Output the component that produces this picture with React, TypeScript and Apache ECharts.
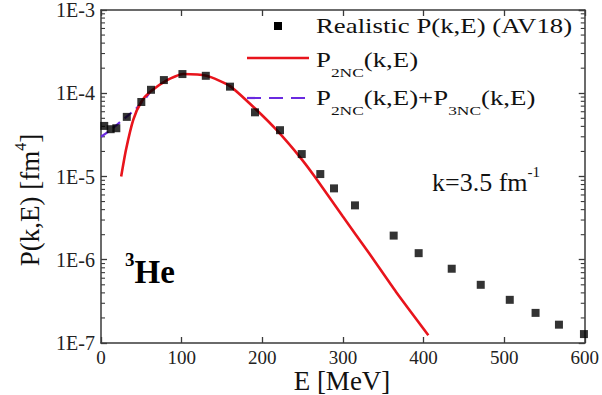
import React, { useEffect, useRef } from "react";
import * as echarts from "echarts";

// Realistic P(k,E) (AV18) squares
const realisticE = [4, 12, 19, 32, 50, 62, 78, 101, 130, 160, 191, 222, 249, 272, 289, 315, 363, 394, 435, 471, 507, 539, 568, 599];
const realisticP = [4.05e-5, 3.7e-5, 3.8e-5, 5.2e-5, 7.85e-5, 1.1e-4, 1.44e-4, 1.7e-4, 1.62e-4, 1.2e-4, 5.9e-5, 3.6e-5, 1.86e-5, 1.07e-5, 7.2e-6, 4.5e-6, 1.95e-6, 1.2e-6, 7.8e-7, 5.0e-7, 3.3e-7, 2.3e-7, 1.66e-7, 1.28e-7];

// P2NC(k,E) red curve
const p2ncE = [25, 31, 40, 50, 61, 82, 102, 131, 160, 193, 218, 247, 265, 300, 333, 366, 406];
const p2ncP = [1.0e-5, 2.1e-5, 4.8e-5, 7.9e-5, 1.04e-4, 1.44e-4, 1.7e-4, 1.62e-4, 1.22e-4, 6.3e-5, 3.6e-5, 1.7e-5, 1.0e-5, 3.3e-6, 1.18e-6, 4.1e-7, 1.24e-7];

// P2NC + P3NC dashed curve (visible part at low E)
const p23E = [0, 12, 27, 42, 55, 61];
const p23P = [3.0e-5, 3.6e-5, 4.8e-5, 6.3e-5, 8.6e-5, 1.04e-4];

const yTickLabels = ["1E-7", "1E-6", "1E-5", "1E-4", "1E-3"];
const minorMantissas = [2, 3, 4, 5, 6, 7, 8, 9];
const minorDecades = [-7, -6, -5, -4];

const SERIF = "serif";
const AXIS_COLOR = "#3a3a3a";
const RED = "#e8141c";
const BLUE = "#6a2ae0";

export default function App() {
  const ref = useRef<HTMLDivElement>(null);

  useEffect(() => {
    if (!ref.current) return;
    const chart = echarts.init(ref.current, undefined, { renderer: "svg" });

    const minorVals: number[] = [];
    minorDecades.forEach((d) => minorMantissas.forEach((m) => minorVals.push(m * Math.pow(10, d))));

    const axisLine = { show: true, onZero: false, lineStyle: { color: AXIS_COLOR, width: 1.5 } };
    const tickStyle = { show: true, inside: true, length: 6, lineStyle: { color: AXIS_COLOR, width: 1.3 } };

    const option: any = {
      animation: false,
      backgroundColor: "#ffffff",
      textStyle: { fontFamily: SERIF },
      grid: { left: 101, right: 17, top: 10, bottom: 52, containLabel: false },
      xAxis: [
        {
          type: "value",
          min: 0,
          max: 600,
          interval: 100,
          position: "bottom",
          axisLine,
          axisTick: tickStyle,
          splitLine: { show: false },
          axisLabel: { margin: 5, fontFamily: SERIF, fontSize: 19, color: "#222" },
        },
        {
          type: "value",
          min: 0,
          max: 600,
          interval: 100,
          position: "top",
          axisLine,
          axisTick: tickStyle,
          splitLine: { show: false },
          axisLabel: { show: false },
        },
      ],
      yAxis: [
        {
          type: "log",
          logBase: 10,
          min: 1e-7,
          max: 1e-3,
          position: "left",
          axisLine,
          axisTick: tickStyle,
          splitLine: { show: false },
          axisLabel: {
            margin: 6,
            fontFamily: SERIF,
            fontSize: 20,
            color: "#222",
            formatter: (v: number) => {
              const idx = Math.round(Math.log10(v)) + 7;
              return yTickLabels[idx] ?? "";
            },
          },
        },
        {
          type: "log",
          logBase: 10,
          min: 1e-7,
          max: 1e-3,
          position: "right",
          axisLine,
          axisTick: tickStyle,
          splitLine: { show: false },
          axisLabel: { show: false },
        },
      ],
      series: [
        {
          type: "custom",
          xAxisIndex: 0,
          yAxisIndex: 0,
          silent: true,
          clip: false,
          data: minorVals.map((v) => [0, v]),
          renderItem: (_p: any, api: any) => {
            const v = api.value(1);
            const l = api.coord([0, v]);
            const r = api.coord([600, v]);
            const st = { stroke: AXIS_COLOR, lineWidth: 1.1 };
            return {
              type: "group",
              children: [
                { type: "line", shape: { x1: l[0], y1: l[1], x2: l[0] + 4, y2: l[1] }, style: st },
                { type: "line", shape: { x1: r[0], y1: r[1], x2: r[0] - 4, y2: r[1] }, style: st },
              ],
            };
          },
        },
        {
          name: "P2NC+P3NC",
          type: "line",
          data: p23E.map((e, i) => [e, p23P[i]]),
          showSymbol: false,
          symbol: "none",
          lineStyle: { color: BLUE, width: 2.2, type: [9, 6] },
          z: 2,
        },
        {
          name: "P2NC",
          type: "line",
          data: p2ncE.map((e, i) => [e, p2ncP[i]]),
          showSymbol: false,
          symbol: "none",
          smooth: 0.2,
          lineStyle: { color: RED, width: 2.6 },
          z: 3,
        },
        {
          name: "Realistic",
          type: "scatter",
          data: realisticE.map((e, i) => [e, realisticP[i]]),
          symbol: "rect",
          symbolSize: 8,
          itemStyle: { color: "#000" },
          z: 4,
        },
      ],
      graphic: [
        // legend
        { type: "rect", shape: { x: 274, y: 22, width: 8, height: 8 }, style: { fill: "#000" }, z: 10 },
        { type: "line", shape: { x1: 247, y1: 58, x2: 309, y2: 58 }, style: { stroke: RED, lineWidth: 2.6 }, z: 10 },
        { type: "line", shape: { x1: 247, y1: 98, x2: 309, y2: 98 }, style: { stroke: BLUE, lineWidth: 2.2, lineDash: [14, 8] }, z: 10 },
        {
          type: "text",
          x: 316,
          y: 26,
          scaleX: 1.34,
          z: 10,
          style: { text: "Realistic P(k,E) (AV18)", fontFamily: SERIF, fontSize: 20, fill: "#111", align: "left", verticalAlign: "middle" },
        },
        {
          type: "text",
          x: 316,
          y: 60,
          scaleX: 1.34,
          z: 10,
          style: {
            text: "{m|P}{s|2NC}{m|(k,E)}",
            align: "left",
            verticalAlign: "middle",
            rich: {
              m: { fontFamily: SERIF, fontSize: 20, lineHeight: 24, fill: "#111" },
              s: { fontFamily: SERIF, fontSize: 13, lineHeight: 24, padding: [24, 0, 0, 0], fill: "#111" },
            },
          },
        },
        {
          type: "text",
          x: 316,
          y: 98,
          scaleX: 1.34,
          z: 10,
          style: {
            text: "{m|P}{s|2NC}{m|(k,E)+P}{s|3NC}{m|(k,E)}",
            align: "left",
            verticalAlign: "middle",
            rich: {
              m: { fontFamily: SERIF, fontSize: 20, lineHeight: 24, fill: "#111" },
              s: { fontFamily: SERIF, fontSize: 13, lineHeight: 24, padding: [24, 0, 0, 0], fill: "#111" },
            },
          },
        },
        // k annotation
        {
          type: "text",
          x: 432,
          y: 182,
          z: 10,
          style: {
            text: "{m|k=3.5 fm}{s|-1}",
            align: "left",
            verticalAlign: "middle",
            rich: {
              m: { fontFamily: SERIF, fontSize: 26, lineHeight: 30, fill: "#111" },
              s: { fontFamily: SERIF, fontSize: 15, lineHeight: 30, padding: [0, 0, 20, 0], fill: "#111" },
            },
          },
        },
        // 3He
        {
          type: "text",
          x: 125,
          y: 272,
          z: 10,
          style: {
            text: "{s|3}{m|He}",
            align: "left",
            verticalAlign: "middle",
            rich: {
              m: { fontFamily: SERIF, fontWeight: "bold", fontSize: 33, lineHeight: 34, fill: "#000" },
              s: { fontFamily: SERIF, fontWeight: "bold", fontSize: 19, lineHeight: 34, padding: [0, 0, 26, 0], fill: "#000" },
            },
          },
        },
        // y axis title
        {
          type: "text",
          x: 30,
          y: 200,
          rotation: Math.PI / 2,
          z: 10,
          style: {
            text: "{m|P(k,E) [fm}{s|4}{m|]}",
            align: "center",
            verticalAlign: "middle",
            rich: {
              m: { fontFamily: SERIF, fontSize: 27, lineHeight: 30, fill: "#111" },
              s: { fontFamily: SERIF, fontSize: 16, lineHeight: 30, padding: [0, 0, 20, 0], fill: "#111" },
            },
          },
        },
        // x axis title
        {
          type: "text",
          x: 342,
          y: 381,
          z: 10,
          style: { text: "E [MeV]", fontFamily: SERIF, fontSize: 27, fill: "#111", align: "center", verticalAlign: "middle" },
        },
      ],
    };

    chart.setOption(option);
    return () => chart.dispose();
  }, []);

  return (
    <div
      ref={ref}
      style={{ position: "fixed", left: 0, top: 0, width: 602, height: 395, background: "#fff" }}
    />
  );
}
